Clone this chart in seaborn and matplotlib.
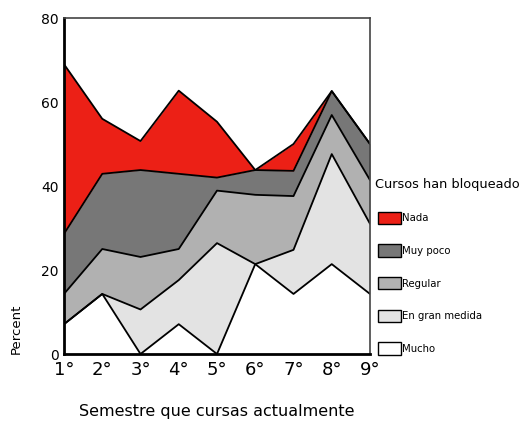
import numpy as np
import pandas as pd
import matplotlib
matplotlib.use("Agg")
import matplotlib.pyplot as plt
from matplotlib.patches import Patch
import seaborn as sns

# semestres
semestres = [1, 2, 3, 4, 5, 6, 7, 8, 9]
sem_labels = ["1°", "2°", "3°", "4°", "5°", "6°", "7°", "8°", "9°"]

# percent per category (stacked from bottom)
mucho = [7.1, 14.3, 0.0, 7.1, 0.0, 21.4, 14.3, 21.4, 14.3]
en_gran_medida = [0.0, 0.0, 10.6, 10.5, 26.4, 0.0, 10.5, 26.2, 16.7]
regular = [7.2, 10.7, 12.5, 7.4, 12.5, 16.5, 12.8, 9.3, 10.4]
muy_poco = [14.3, 17.9, 20.7, 17.9, 3.1, 5.9, 6.0, 5.7, 8.6]
nada = [40.4, 13.1, 6.9, 19.8, 13.3, 0.0, 6.4, 0.0, 0.0]

categorias = ["Mucho", "En gran medida", "Regular", "Muy poco", "Nada"]
colores = ["#ffffff", "#e3e3e3", "#b1b1b1", "#777777", "#ec2016"]

sns.set_style("white")
plt.rcParams["font.family"] = ["DejaVu Sans"]
plt.rcParams["text.color"] = "black"
plt.rcParams["axes.labelcolor"] = "black"
plt.rcParams["xtick.color"] = "black"
plt.rcParams["ytick.color"] = "black"

fig = plt.figure(figsize=(5.21, 4.24), dpi=100)
ax = fig.add_axes([64 / 521, 1 - 354 / 424, (370 - 64) / 521, (354 - 18) / 424])

series = [mucho, en_gran_medida, regular, muy_poco, nada]
ax.stackplot(semestres, *series, colors=colores, linewidth=0)

# boundary lines
cum = np.cumsum(np.array(series), axis=0)
df = pd.DataFrame({"x": np.tile(semestres, len(categorias)),
                   "y": cum.ravel(),
                   "cat": np.repeat(categorias, len(semestres))})
sns.lineplot(data=df, x="x", y="y", units="cat", estimator=None,
             color="black", linewidth=1.3, ax=ax, legend=False)

ax.set_xlim(1, 9)
ax.set_ylim(0, 80)
ax.set_xticks(semestres)
ax.set_xticklabels(sem_labels, fontsize=13)
ax.set_yticks([0, 20, 40, 60, 80])
ax.tick_params(axis="y", labelsize=10, length=3, width=2, direction="out", pad=1)
ax.tick_params(axis="x", length=3, width=2, direction="out", pad=2)
ax.set_xlabel("Semestre que cursas actualmente", fontsize=11.5, labelpad=18)
ax.set_ylabel("Percent", fontsize=9.5)
ax.yaxis.set_label_coords(-0.135, 0.0, transform=ax.transAxes)
ax.yaxis.label.set_verticalalignment("bottom")
ax.yaxis.label.set_horizontalalignment("left")

for side in ["left", "bottom"]:
    ax.spines[side].set_linewidth(2)
    ax.spines[side].set_color("black")
for side in ["top", "right"]:
    ax.spines[side].set_linewidth(1.2)
    ax.spines[side].set_color("#444444")

handles = [Patch(facecolor=c, edgecolor="black", linewidth=1) for c in colores[::-1]]
leg = fig.legend(handles, categorias[::-1], loc="upper left",
                 bbox_to_anchor=(378 / 521, 1 - 178 / 424), frameon=False,
                 fontsize=7.3, handlelength=2.3, handleheight=1.5,
                 handletextpad=0.1, labelspacing=2.0, borderpad=0,
                 borderaxespad=0, alignment="left")
leg.set_title("Cursos han bloqueado", prop={"size": 9.3})
leg._legend_box.sep = 15
leg._legend_box.align = "left"
leg.get_title().set_position((-3, 0))

fig.savefig("out.png", dpi=100)
